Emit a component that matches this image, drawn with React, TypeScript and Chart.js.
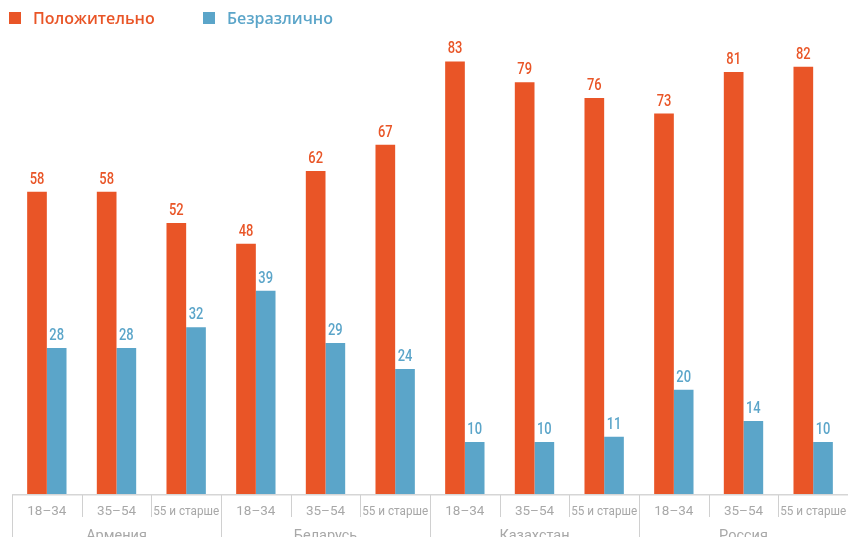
import React, { useEffect, useRef } from "react";
import { Chart, registerables } from "chart.js";

Chart.register(...registerables);

const countries = ["Армения", "Беларусь", "Казахстан", "Россия"];
const ageGroups = ["18–34", "35–54", "55 и старше"];
const seriesNames = ["Положительно", "Безразлично"];
const positive = [58, 58, 52, 48, 62, 67, 83, 79, 76, 73, 81, 82];
const indifferent = [28, 28, 32, 39, 29, 24, 10, 10, 11, 20, 14, 10];

const ORANGE = "#E95527";
const BLUE = "#5BA5C9";
const W = 848;
const H = 550;
const AXIS_Y = 494;

export default function App() {
  const ref = useRef<HTMLCanvasElement | null>(null);

  useEffect(() => {
    if (!ref.current) return;
    const labels = countries.flatMap(() => ageGroups);

    const customPlugin = {
      id: "custom",
      afterDatasetsDraw(chart: any) {
        const ctx = chart.ctx;
        ctx.save();
        ctx.font = "500 17px Roboto, sans-serif";
        ctx.textAlign = "center";
        ctx.textBaseline = "alphabetic";
        chart.data.datasets.forEach((ds: any, di: number) => {
          const meta = chart.getDatasetMeta(di);
          ctx.fillStyle = ds.backgroundColor;
          meta.data.forEach((bar: any, i: number) => {
            const t = String(ds.data[i]);
            const w = ctx.measureText(t).width;
            ctx.fillText(t, bar.x, bar.y - 8, w * 0.76);
          });
        });
        ctx.restore();
      },
      afterDraw(chart: any) {
        const ctx = chart.ctx;
        const area = chart.chartArea;
        const n = chart.data.labels.length;
        const catW = (area.right - area.left) / n;
        ctx.save();
        // baseline
        ctx.strokeStyle = "#d6d6d6";
        ctx.lineWidth = 1.5;
        ctx.beginPath();
        ctx.moveTo(area.left, AXIS_Y + 0.75);
        ctx.lineTo(area.right, AXIS_Y + 0.75);
        ctx.stroke();
        // separators
        ctx.strokeStyle = "#d0d0d0";
        ctx.lineWidth = 1;
        for (let i = 0; i <= n; i++) {
          const x = Math.round(area.left + i * catW) + 0.5;
          ctx.beginPath();
          ctx.moveTo(x, AXIS_Y + 1);
          ctx.lineTo(x, i % ageGroups.length === 0 ? H : 517);
          ctx.stroke();
        }
        // age labels
        ctx.fillStyle = "#a8a8a8";
        ctx.textAlign = "center";
        ctx.textBaseline = "alphabetic";
        ctx.font = "13.5px Roboto, sans-serif";
        chart.data.labels.forEach((lab: string, i: number) => {
          const x = chart.scales.x.getPixelForValue(i);
          ctx.fillText(lab, x, 515, 66);
        });
        // country labels
        ctx.font = "14.5px Roboto, sans-serif";
        countries.forEach((c, gi) => {
          const x = area.left + (gi * ageGroups.length + ageGroups.length / 2) * catW;
          ctx.fillText(c, x, 540);
        });
        // legend
        const colors = [ORANGE, BLUE];
        const lx = [9, 203];
        ctx.font = "600 16px 'Open Sans', sans-serif";
        ctx.textAlign = "left";
        seriesNames.forEach((s, i) => {
          ctx.fillStyle = colors[i];
          ctx.fillRect(lx[i], 12, 12, 12);
          ctx.fillText(s, lx[i] + 24, 24);
        });
        ctx.restore();
      },
    };

    const chart = new Chart(ref.current, {
      type: "bar",
      data: {
        labels,
        datasets: [
          {
            label: seriesNames[0],
            data: positive,
            backgroundColor: ORANGE,
            categoryPercentage: 0.565,
            barPercentage: 1,
          },
          {
            label: seriesNames[1],
            data: indifferent,
            backgroundColor: BLUE,
            categoryPercentage: 0.565,
            barPercentage: 1,
          },
        ],
      },
      options: {
        responsive: false,
        animation: false,
        devicePixelRatio: 1,
        layout: { padding: { left: 12, right: 0, top: 0, bottom: H - AXIS_Y } },
        plugins: { legend: { display: false }, tooltip: { enabled: false } },
        scales: {
          x: { display: false },
          y: { display: false, min: 0, max: 94.8 },
        },
      },
      plugins: [customPlugin],
    });
    return () => chart.destroy();
  }, []);

  return (
    <div
      style={{
        position: "fixed",
        left: 0,
        top: 0,
        width: W,
        height: 537,
        overflow: "hidden",
        background: "#fff",
      }}
    >
      <canvas ref={ref} width={W} height={H} style={{ display: "block" }} />
    </div>
  );
}
